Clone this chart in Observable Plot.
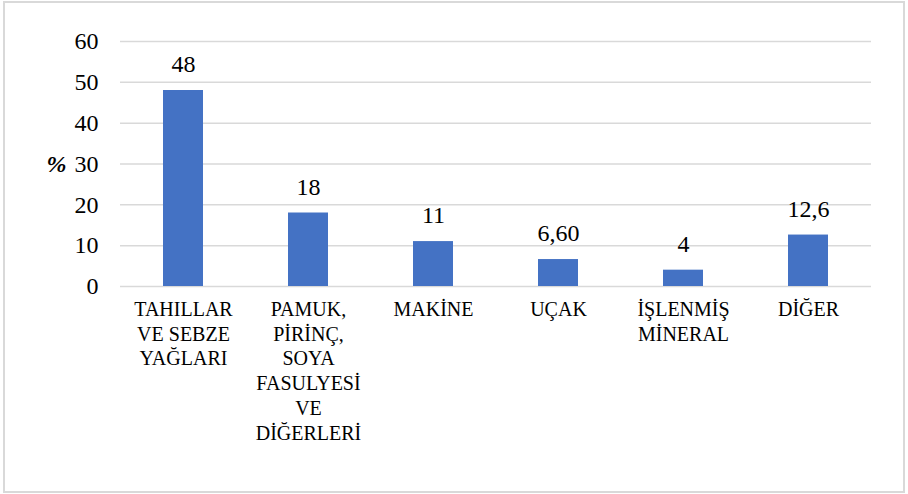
<!DOCTYPE html>
<html>
<head>
<meta charset="utf-8">
<script src="https://cdn.jsdelivr.net/npm/d3@7"></script>
<script src="https://cdn.jsdelivr.net/npm/@observablehq/plot@0.6"></script>
<style>
  html, body { margin: 0; padding: 0; background: #fff; }
  #wrap { position: relative; width: 908px; height: 494px; }
  #border { position: absolute; left: 3px; top: 1px; width: 898px; height: 488px; border: 2px solid #d9d9d9; pointer-events: none; }
  #chart { position: absolute; left: 0; top: 0; }
</style>
</head>
<body>
<div id="wrap"><div id="chart"></div><div id="border"></div></div>
<script>
const categories = ["TAHILLAR VE SEBZE YAĞLARI", "PAMUK, PİRİNÇ, SOYA FASULYESİ VE DİĞERLERİ", "MAKİNE", "UÇAK", "İŞLENMİŞ MİNERAL", "DİĞER"];
const tickLabels = ["TAHILLAR\nVE SEBZE\nYAĞLARI", "PAMUK,\nPİRİNÇ,\nSOYA\nFASULYESİ\nVE\nDİĞERLERİ", "MAKİNE", "UÇAK", "İŞLENMİŞ\nMİNERAL", "DİĞER"];
const values = [48, 18, 11, 6.6, 4, 12.6];
const valueLabels = ["48", "18", "11", "6,60", "4", "12,6"];
const yTicks = [0, 10, 20, 30, 40, 50, 60];

const data = categories.map((c, i) => ({cat: c, value: values[i], label: valueLabels[i], tick: tickLabels[i]}));
const tickMap = new Map(data.map(d => [d.cat, d.tick]));
const serif = "Liberation Serif";

const chart = Plot.plot({
  width: 908,
  height: 494,
  marginLeft: 120,
  marginRight: 37,
  marginTop: 41,
  marginBottom: 208,
  style: "font-family: 'Liberation Serif'; background: transparent; color: #000;",
  x: {domain: categories, paddingInner: 0.68, paddingOuter: 0.34, label: null},
  y: {domain: [0, 60], label: null},
  marks: [
    Plot.gridY(yTicks, {stroke: "#d9d9d9", strokeOpacity: 1, strokeWidth: 1.5}),
    Plot.barY(data, {x: "cat", y: "value", fill: "#4472C4"}),
    Plot.text(data, {x: "cat", y: "value", text: "label", dy: -26, fontSize: 24, fontFamily: serif, fill: "#000"}),
    Plot.axisY(yTicks, {tickSize: 0, tickPadding: 22, fontSize: 24, fontFamily: serif, label: null, fill: "#000"}),
    Plot.axisX({tickSize: 0, tickPadding: 12, fontSize: 20, fontFamily: serif, lineHeight: 1.235, label: null, fill: "#000", tickFormat: d => tickMap.get(d)}),
    Plot.text(["%"], {frameAnchor: "left", dx: -74, fontSize: 24, fontFamily: serif, fontStyle: "italic", fontWeight: "bold", fill: "#000"})
  ]
});
document.getElementById("chart").appendChild(chart);
</script>
</body>
</html>
